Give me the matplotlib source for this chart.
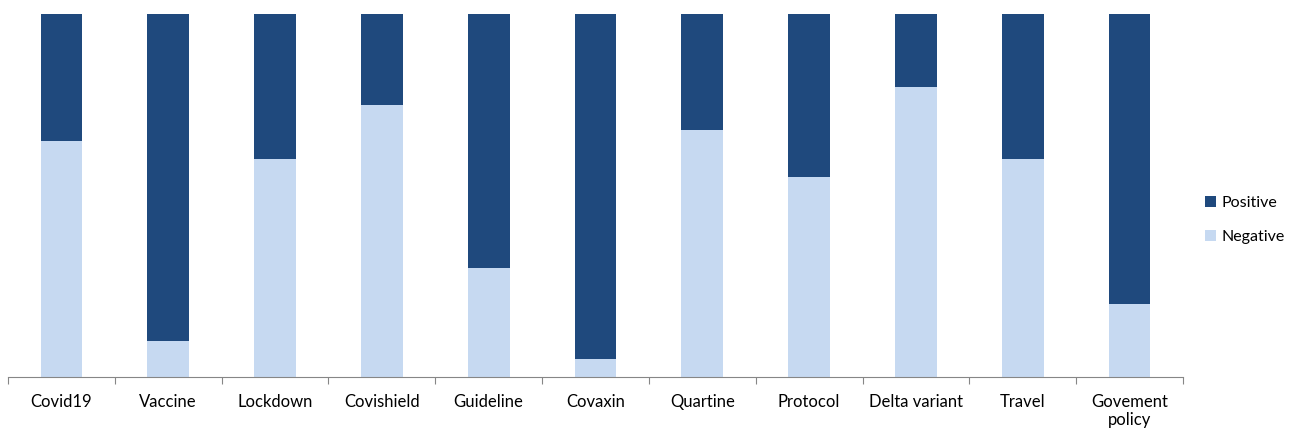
import matplotlib
matplotlib.use("Agg")
import matplotlib.pyplot as plt
import numpy as np

categories = ["Covid19", "Vaccine", "Lockdown", "Covishield", "Guideline", "Covaxin",
              "Quartine", "Protocol", "Delta variant", "Travel", "Govement\npolicy"]
negative = [65, 10, 60, 75, 30, 5, 68, 55, 80, 60, 20]
positive = [100 - v for v in negative]

plt.rcParams['font.family'] = ['Lato', 'DejaVu Sans']

fig = plt.figure(figsize=(12.93, 4.32), dpi=100)
ax = fig.add_axes([8/1293, (432-377)/432, (1183-8)/1293, (377-14)/432])

x = np.arange(len(categories))
w = 0.39
ax.bar(x, negative, w, color="#C6D9F1", label="Negative")
ax.bar(x, positive, w, bottom=negative, color="#1F497D", label="Positive")

ax.set_xlim(-0.5, len(categories) - 0.5)
ax.set_ylim(0, 100)
ax.set_yticks([])
for s in ["top", "right", "left"]:
    ax.spines[s].set_visible(False)
ax.spines["bottom"].set_color("#868686")
ax.set_xticks(np.arange(-0.5, len(categories), 1.0))
ax.set_xticklabels([])
ax.tick_params(axis="x", which="major", length=5, color="#868686")
ax.set_xticks(x, minor=True)
ax.set_xticklabels(categories, minor=True, fontsize=12, color="#000000")
ax.tick_params(axis="x", which="minor", length=0, pad=12)
for lbl in ax.get_xticklabels(minor=True):
    lbl.set_linespacing(1.15)

handles, labels = ax.get_legend_handles_labels()
leg = fig.legend(handles[::-1], labels[::-1], loc="center left",
                 bbox_to_anchor=(1200/1293, (432-220)/432), frameon=False,
                 fontsize=11.5, handlelength=0.7, handleheight=0.7,
                 handletextpad=0.35, labelspacing=1.2, borderaxespad=0,
                 borderpad=0.3)

fig.savefig("out.png", dpi=100)
